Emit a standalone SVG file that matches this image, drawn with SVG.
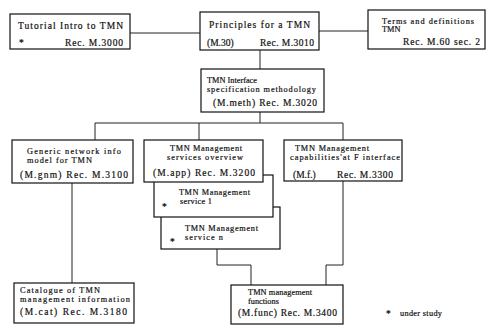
<svg xmlns="http://www.w3.org/2000/svg" width="494" height="329" viewBox="0 0 494 329">
  <style>
    .box { fill: #ffffff; stroke: #111111; stroke-width: 1.2; }
    .wire { fill: none; stroke: #222222; stroke-width: 1; }
    text { font-family: "Liberation Serif", "DejaVu Serif", serif; font-size: 9.5px; fill: #111111; stroke: #111111; stroke-width: 0.2; }
    .t { font-size: 8.3px; }
  </style>
  <rect width="494" height="329" fill="#ffffff"/>

  <g id="connectors">
    <line class="wire" x1="130" y1="33" x2="200" y2="33"/>
    <line class="wire" x1="319" y1="31" x2="368" y2="31"/>
    <line class="wire" x1="260" y1="50" x2="260" y2="69"/>
    <line class="wire" x1="260" y1="112" x2="260" y2="123"/>
    <line class="wire" x1="95" y1="123" x2="343" y2="123"/>
    <line class="wire" x1="95" y1="123" x2="95" y2="140"/>
    <line class="wire" x1="199" y1="123" x2="199" y2="140"/>
    <line class="wire" x1="343" y1="123" x2="343" y2="140"/>
    <line class="wire" x1="72" y1="183" x2="72" y2="283"/>
    <polyline class="wire" points="217,249 217,265 251,265 251,285"/>
    <polyline class="wire" points="343,181 343,265 326,265 326,285"/>
  </g>

  <g id="tutorial">
    <rect class="box" x="10" y="14" width="120" height="35"/>
    <text x="18" y="29" textLength="105" lengthAdjust="spacing">Tutorial Intro to TMN</text>
    <text x="19" y="46">*</text>
    <text x="65" y="46" textLength="58" lengthAdjust="spacing">Rec. M.3000</text>
  </g>

  <g id="principles">
    <rect class="box" x="200" y="12" width="119" height="38"/>
    <text x="209" y="28" textLength="101" lengthAdjust="spacing">Principles for a TMN</text>
    <text x="207" y="46">(M.30)</text>
    <text x="260" y="46" textLength="54" lengthAdjust="spacing">Rec. M.3010</text>
  </g>

  <g id="terms">
    <rect class="box" x="368" y="10" width="117" height="39"/>
    <text class="t" x="382" y="24" textLength="92" lengthAdjust="spacing">Terms and definitions</text>
    <text class="t" x="382" y="32">TMN</text>
    <text x="403" y="45" textLength="77" lengthAdjust="spacing">Rec. M.60 sec. 2</text>
  </g>

  <g id="methodology">
    <rect class="box" x="201" y="69" width="123" height="43"/>
    <text class="t" x="207" y="83">TMN Interface</text>
    <text class="t" x="207" y="92" textLength="109" lengthAdjust="spacing">specification methodology</text>
    <text x="213" y="106" textLength="104" lengthAdjust="spacing">(M.meth) Rec. M.3020</text>
  </g>

  <g id="generic-model">
    <rect class="box" x="12" y="140" width="121" height="43"/>
    <text class="t" x="27" y="154" textLength="94" lengthAdjust="spacing">Generic network info</text>
    <text class="t" x="27" y="163" textLength="65" lengthAdjust="spacing">model for TMN</text>
    <text x="20" y="178" textLength="108" lengthAdjust="spacing">(M.gnm) Rec. M.3100</text>
  </g>

  <g id="service-n">
    <rect class="box" x="161" y="207" width="119" height="42"/>
    <text class="t" x="185" y="231" textLength="73" lengthAdjust="spacing">TMN Management</text>
    <text class="t" x="185" y="240" textLength="38" lengthAdjust="spacing">service n</text>
    <text x="170" y="245">*</text>
  </g>

  <g id="service-1">
    <rect class="box" x="154" y="175" width="119" height="42"/>
    <text class="t" x="179" y="195" textLength="71" lengthAdjust="spacing">TMN Management</text>
    <text class="t" x="180" y="204" textLength="32" lengthAdjust="spacing">service 1</text>
    <text x="162" y="210">*</text>
  </g>

  <g id="services-overview">
    <rect class="box" x="144" y="140" width="119" height="42"/>
    <text class="t" x="170" y="151" textLength="72" lengthAdjust="spacing">TMN Management</text>
    <text class="t" x="167" y="160" textLength="76" lengthAdjust="spacing">services overview</text>
    <text x="153" y="176" textLength="102" lengthAdjust="spacing">(M.app) Rec. M.3200</text>
  </g>

  <g id="capabilities">
    <rect class="box" x="284" y="140" width="118" height="41"/>
    <text class="t" x="295" y="151" textLength="74" lengthAdjust="spacing">TMN Management</text>
    <text class="t" x="290" y="160" textLength="110" lengthAdjust="spacing">capabilities'at F interface</text>
    <text x="293" y="178">(M.f.)</text>
    <text x="337" y="178" textLength="56" lengthAdjust="spacing">Rec. M.3300</text>
  </g>

  <g id="catalogue">
    <rect class="box" x="14" y="283" width="120" height="40"/>
    <text class="t" x="20" y="293" textLength="80" lengthAdjust="spacing">Catalogue of TMN</text>
    <text class="t" x="20" y="302" textLength="110" lengthAdjust="spacing">management information</text>
    <text x="20" y="315" textLength="107" lengthAdjust="spacing">(M.cat) Rec. M.3180</text>
  </g>

  <g id="functions">
    <rect class="box" x="231" y="285" width="112" height="39"/>
    <text class="t" x="248" y="295" textLength="64" lengthAdjust="spacing">TMN management</text>
    <text class="t" x="248" y="304">functions</text>
    <text x="238" y="316" textLength="99" lengthAdjust="spacing">(M.func) Rec. M.3400</text>
  </g>

  <g id="legend">
    <text x="386" y="317">*</text>
    <text class="t" x="400" y="316" textLength="42" lengthAdjust="spacing">under study</text>
  </g>
</svg>
